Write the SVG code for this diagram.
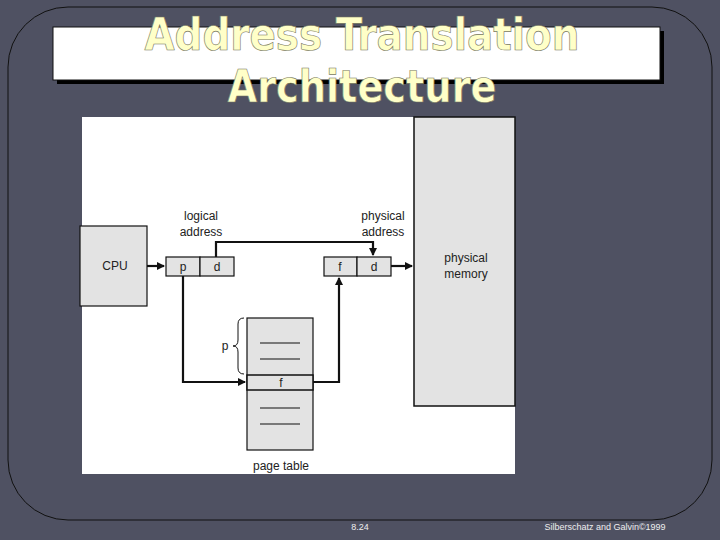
<svg xmlns="http://www.w3.org/2000/svg" width="720" height="540" viewBox="0 0 720 540">
<style>
.t{font-family:"Liberation Sans",Arial,sans-serif;font-size:12px;fill:#222;text-anchor:middle}
.b{fill:#e3e3e3;stroke:#111;stroke-width:1.2}
.c{fill:none;stroke:#111;stroke-width:2.2}
.ttl{font-family:"DejaVu Sans Condensed","DejaVu Sans",sans-serif;font-weight:bold;font-size:44px;fill:#ffffc8;stroke:#777760;stroke-width:0.6;text-anchor:middle}
</style>
<defs><marker id="a" markerWidth="8" markerHeight="8" refX="7" refY="4" orient="auto" markerUnits="userSpaceOnUse"><path d="M0,0 L8,4 L0,8z" fill="#111"/></marker></defs>
<rect width="720" height="540" fill="#4f5162"/>
<rect x="8" y="7" width="704" height="513" rx="60" fill="none" stroke="#111" stroke-width="1"/>
<rect x="57" y="31" width="607" height="53" fill="#000"/>
<rect x="53" y="27" width="607" height="53" fill="#fff" stroke="#111"/>
<text class="ttl" x="362" y="50" textLength="435" lengthAdjust="spacingAndGlyphs">Address Translation</text>
<text class="ttl" x="362" y="102" textLength="269" lengthAdjust="spacingAndGlyphs">Architecture</text>
<rect x="82" y="117" width="433" height="357" fill="#fff"/>
<g id="memory"><rect x="414" y="117" width="101" height="289" fill="#e3e3e3" stroke="#111" stroke-width="1.5"/><text class="t" x="466" y="262">physical</text><text class="t" x="466" y="278">memory</text></g>
<g id="cpu"><rect x="80" y="226" width="67" height="80" class="b"/><text class="t" x="115" y="270">CPU</text></g>
<g id="logical"><rect x="166" y="257" width="34" height="19" class="b"/><rect x="200" y="257" width="34" height="19" class="b"/><text class="t" x="183" y="271">p</text><text class="t" x="217" y="271">d</text><text class="t" x="201" y="220">logical</text><text class="t" x="201" y="236">address</text></g>
<g id="physical"><rect x="324" y="257" width="33" height="19" class="b"/><rect x="357" y="257" width="34" height="19" class="b"/><text class="t" x="340" y="271">f</text><text class="t" x="374" y="271">d</text><text class="t" x="383" y="220">physical</text><text class="t" x="383" y="236">address</text></g>
<g id="pagetable"><rect x="247" y="318" width="66" height="132" class="b"/><rect x="247" y="375" width="66" height="15" fill="#e3e3e3" stroke="#111" stroke-width="1.5"/><text class="t" x="281" y="387">f</text>
<path d="M260,343H300M260,359H300M260,408H300M260,424H300" stroke="#111" stroke-width="1.2"/>
<path d="M244,318 Q238,318 238,324 V340 Q238,346 233,346 Q238,346 238,352 V368 Q238,374 244,374" fill="none" stroke="#111" stroke-width="1"/>
<text class="t" x="225" y="350">p</text><text class="t" x="281" y="470">page table</text></g>
<g id="connectors">
<path class="c" d="M147,266H164" marker-end="url(#a)"/>
<path class="c" d="M216,257V242H373V255" marker-end="url(#a)"/>
<path class="c" d="M183,276V382H245" marker-end="url(#a)"/>
<path class="c" d="M313,382H339V278" marker-end="url(#a)"/>
<path class="c" d="M391,266H412" marker-end="url(#a)"/>
</g>
<text x="360" y="530" style="font-family:'Liberation Sans',sans-serif;font-size:9px;fill:#eee;text-anchor:middle">8.24</text>
<text x="605" y="530" style="font-family:'Liberation Sans',sans-serif;font-size:9px;fill:#eee;text-anchor:middle">Silberschatz and Galvin©1999</text>
</svg>
